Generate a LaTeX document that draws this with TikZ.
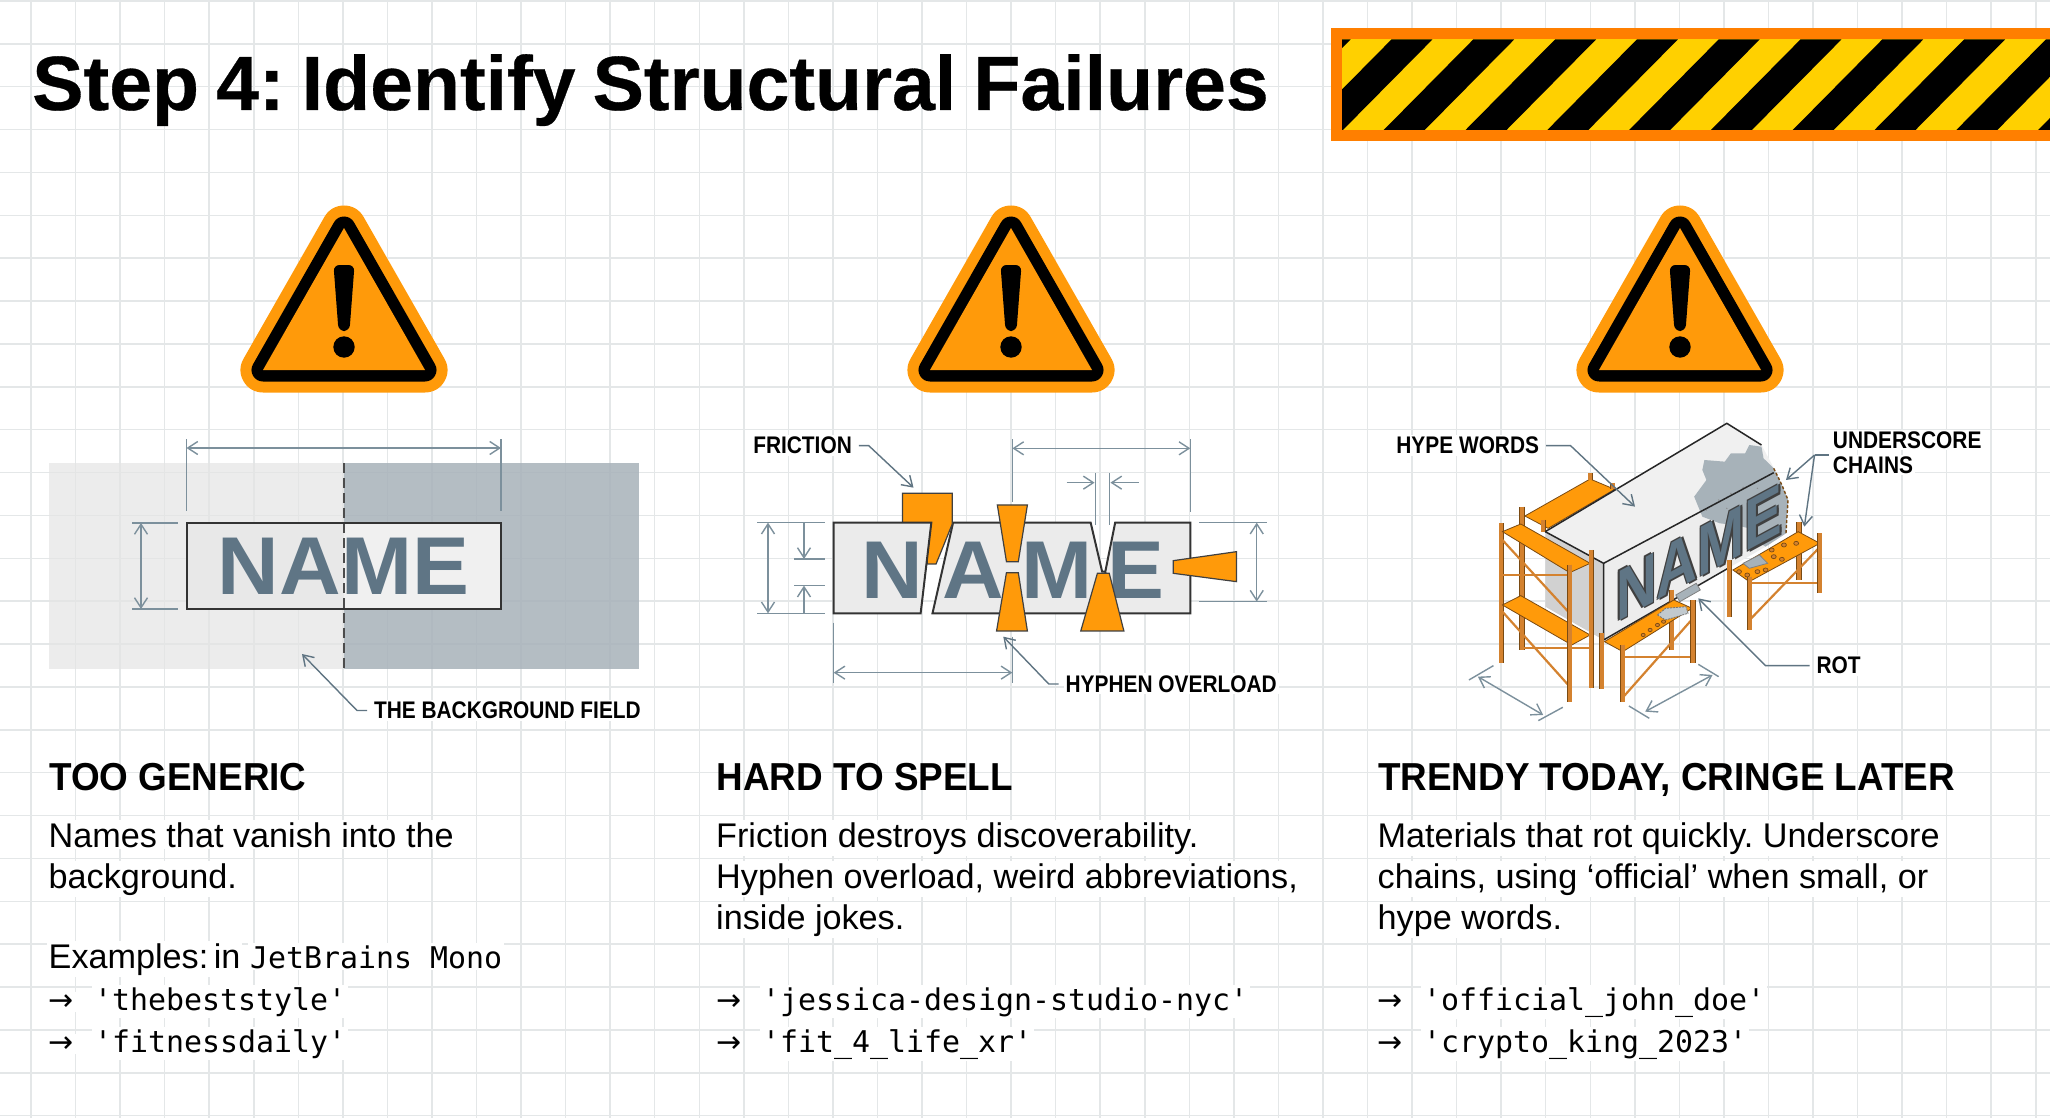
\documentclass[tikz,border=0pt]{standalone}
\usepackage{fontspec}
\setmainfont{Liberation Sans}
\newfontfamily\codefont{DejaVu Sans Mono}
\newfontfamily\arrowfont{DejaVu Sans}
\newfontfamily\calloutfont[FakeStretch=0.87]{Liberation Sans}
\newfontfamily\headfont[FakeStretch=0.945]{Liberation Sans}
\newfontfamily\namefamily[FakeStretch=1.04]{Liberation Sans}
\newfontfamily\titlefont[WordSpace=0.8,BoldFeatures={FakeBold=0.4}]{Liberation Sans}
\usetikzlibrary{arrows.meta}
\frenchspacing
\definecolor{gridcol}{HTML}{E4E7E8}
\definecolor{dimcol}{HTML}{7C909C}
\definecolor{leadcol}{HTML}{5F7482}
\definecolor{namecol}{HTML}{5F7585}
\definecolor{warnorange}{HTML}{FF9A0A}
\definecolor{hazorange}{HTML}{FF7F00}
\definecolor{hazyellow}{HTML}{FFD000}
\definecolor{scaffcol}{HTML}{D4822F}
\definecolor{scaffdark}{HTML}{7A4A12}
\definecolor{rubblecol}{HTML}{A7B2B9}
\tikzset{
  dimline/.style={draw=dimcol,line width=1.4pt,{Straight Barb[length=10pt,width=13pt]}-{Straight Barb[length=10pt,width=13pt]}},
  dimstop/.style={draw=dimcol,line width=1.4pt,-{Straight Barb[length=10pt,width=13pt]}},
  dimtick/.style={draw=dimcol,line width=1.4pt},
  leader/.style={draw=leadcol,line width=1.4pt,-{Straight Barb[length=10pt,width=13pt]}},
  callout/.style={font=\calloutfont\fontsize{24}{24}\selectfont\bfseries,fill=white,inner sep=2pt,outer xsep=5pt,anchor=west},
  headline/.style={font=\headfont\fontsize{39}{39}\selectfont\bfseries,anchor=base west,inner sep=0pt},
  bodyline/.style={font=\fontsize{34.2}{34}\selectfont,anchor=base west,inner sep=2pt,fill=white},
  codeline/.style={font=\codefont\fontsize{29.9}{30}\selectfont,anchor=base west,inner sep=2pt,fill=white},
  codearrow/.style={font=\arrowfont\fontsize{30}{30}\selectfont,anchor=base west,inner sep=2pt,fill=white},
  namebox/.style={draw=black!80,line width=2pt,fill=black!8,line join=miter},
  hazpiece/.style={draw=black!75,line width=1.2pt,fill=warnorange},
  scaffpole/.style={draw=scaffdark,line width=0.6pt,double=scaffcol,double distance=4pt},
  scaffbrace/.style={draw=scaffcol,line width=2.2pt},
  plank/.style={draw=scaffdark,line width=0.8pt,fill=warnorange},
  namefont/.style={font=\namefamily\fontsize{82}{82}\selectfont\bfseries,text=namecol,inner sep=0pt},
  wallfont/.style={font=\fontsize{65}{65}\selectfont\bfseries,transform shape,anchor=base west,inner sep=0pt}
}
\begin{document}
\begin{tikzpicture}[x=1pt,y=-1pt]
\useasboundingbox (0,0) rectangle (2050,1118);
\fill[white] (0,0) rectangle (2050,1118);
% grid
\foreach \i in {0,...,45}
  \draw[gridcol,line width=1.5pt] ({31+44.55*\i},0) -- ({31+44.55*\i},1118);
\foreach \i in {0,...,26}
  \draw[gridcol,line width=1.5pt] (0,{1+42.87*\i}) -- (2050,{1+42.87*\i});
% title and hazard bar
\node[font=\titlefont\fontsize{77}{77}\selectfont\bfseries,anchor=base west,inner sep=0pt] (steptitle) at (32,110) {Step 4: Identify Structural Failures};
\fill[hazorange] (1331,28) rectangle (2050,141);
\begin{scope}
  \clip (1342,39.5) rectangle (2050,130);
  \fill[hazyellow] (1342,39.5) rectangle (2050,130);
  \foreach \i in {-2,...,8}
    \fill[black] ({1383.7+81.8*\i},130) -- ({1424.7+81.8*\i},130) -- ({1514.2+81.8*\i},39.5) -- ({1473.2+81.8*\i},39.5) -- cycle;
\end{scope}
% warning signs
\foreach \cx in {344,1011,1680}{
  \begin{scope}[shift={(\cx,0)}]
    \draw[warnorange,line width=45pt,line join=round] (0,228) -- (-81,370) -- (81,370) -- cycle;
    \draw[black,line width=23pt,line join=round] (0,228) -- (-81,370) -- (81,370) -- cycle;
    \fill[warnorange] (0,228) -- (-81,370) -- (81,370) -- cycle;
    \fill[black,rounded corners=6pt] (-10.5,265) -- (10.5,265) -- (5.5,331) -- (-5.5,331) -- cycle;
    \fill[black] (0,347) circle[radius=10.7];
  \end{scope}
}
% panel 1
\fill[black!10,opacity=0.7] (48.5,463) rectangle (344,669);
\fill[rubblecol,opacity=0.85] (344,463) rectangle (639,669);
\fill[black!9] (186.5,522.7) rectangle (344,609.3);
\fill[black!6] (344,522.7) rectangle (501,609.3);
\node[namefont] (plainname) at (343.5,566.5) {NAME};
\draw[black!70,line width=2pt,dashed,dash pattern=on 10pt off 5pt] (344,463) -- (344,669);
\draw[draw=black!80,line width=2pt] (186.5,522.7) rectangle (501,609.3);
\draw[dimtick] (186.5,439) -- (186.5,511);
\draw[dimtick] (501,439) -- (501,511);
\draw[dimline] (186.5,448) -- (501,448);
\draw[dimtick] (132,523) -- (178,523);
\draw[dimtick] (132,609) -- (178,609);
\draw[dimline] (141,523) -- (141,609);
\node[callout] (fieldlabel) at (367,710.5) {THE BACKGROUND FIELD};
\coordinate (fieldtip) at (302,654);
\draw[leader] (fieldlabel.west) -- ++(-10,0) -- (fieldtip);
% panel 2, read off a 2.529 x 3 crop
\begin{scope}[shift={(700,400)},x=0.3954pt,y=-0.3333pt]
  \draw[namebox] (588,640) -- (640,368) -- (988,368) -- (1017,515) -- (1035,515) -- (990,640) -- cycle;
  \draw[namebox] (1050,368) -- (1240,368) -- (1240,640) -- (1045,640) -- (1025,515) -- cycle;
  \draw[hazpiece] (512,280) -- (638,280) -- (638,372) -- (597,492) -- (575,492) -- (575,368) -- (512,368) -- cycle;
  \draw[namebox] (338,368) -- (585,368) -- (558,640) -- (338,640) -- cycle;
  \node[namefont,anchor=base] (nletter) at (487,596) {N};
  \node[namefont,anchor=base] (aletter) at (690,596) {A};
  \node[namefont,anchor=base] (mletter) at (902,596) {M};
  \node[namefont,anchor=base] (eletter) at (1103,596) {E};
  \draw[hazpiece] (752,315) -- (828,315) -- (805,485) -- (775,485) -- cycle;
  \draw[hazpiece] (775,518) -- (805,518) -- (828,693) -- (750,693) -- cycle;
  \draw[hazpiece] (1005,520) -- (1035,520) -- (1072,693) -- (963,693) -- cycle;
  \draw[hazpiece] (1197,482) -- (1357,455) -- (1357,545) -- (1197,520) -- cycle;
  % dimensions
  \draw[dimtick] (790,118) -- (790,305);
  \draw[dimtick] (1240,118) -- (1240,335);
  \draw[dimline] (790,145) -- (1240,145);
  \draw[dimtick] (1000,220) -- (1000,375);
  \draw[dimtick] (1035,220) -- (1035,375);
  \draw[dimstop] (927,248) -- (998,248);
  \draw[dimstop] (1110,248) -- (1038,248);
  \draw[dimtick] (145,368) -- (315,368);
  \draw[dimtick] (145,640) -- (315,640);
  \draw[dimline] (172,368) -- (172,640);
  \draw[dimtick] (238,477) -- (315,477);
  \draw[dimtick] (238,557) -- (315,557);
  \draw[dimstop] (263,368) -- (263,477);
  \draw[dimstop] (263,640) -- (263,557);
  \draw[dimtick] (1263,368) -- (1435,368);
  \draw[dimtick] (1263,605) -- (1435,605);
  \draw[dimline] (1408,368) -- (1408,605);
  \draw[dimtick] (338,668) -- (338,848);
  \draw[dimtick] (790,710) -- (790,848);
  \draw[dimline] (338,818) -- (790,818);
  % callouts
  \node[callout] (frictionlabel) at (117,137) {FRICTION};
  \coordinate (frictiontip) at (540,263);
  \draw[leader] (frictionlabel.east) -- ++(25,0) -- (frictiontip);
  \node[callout] (hyphenlabel) at (907,852) {HYPHEN OVERLOAD};
  \coordinate (hyphentip) at (767,710);
  \draw[leader] (hyphenlabel.west) -- ++(-25,0) -- (hyphentip);
\end{scope}
% panel 3, read off a 2.45 x 3 crop
\begin{scope}[shift={(1380,400)},x=0.408pt,y=-0.3333pt]
  \fill[black!18] (405,395) -- (548,490) -- (548,720) -- (405,620) -- cycle;
  \draw[plank] (355,348) -- (515,237) -- (575,268) -- (412,385) -- cycle;
  \draw[scaffpole] (515,220) -- (515,240);
  \draw[scaffpole] (570,250) -- (570,268);
  \draw[scaffpole] (348,320) -- (348,750);
  \draw[scaffpole] (400,360) -- (400,395);
  \fill[black!6] (405,395) -- (850,70) -- (935,135) -- (970,215) -- (548,490) -- cycle;
  \fill[black!7] (548,490) -- (970,215) -- (1000,300) -- (995,400) -- (945,440) -- (548,720) -- cycle;
  \fill[rubblecol] (795,180) -- (845,185) -- (860,160) -- (895,160) -- (905,135) -- (935,140) -- (940,175) -- (965,205) -- (985,255) -- (1000,300) -- (995,400) -- (945,440) -- (925,425) -- (905,385) -- (870,375) -- (833,370) -- (790,350) -- (770,290) -- (800,240) -- (790,210) -- cycle;
  \foreach \dx/\dy in {830/300,860/280,890/262,930/240,950/290,965/340,975/380,850/325,905/320,925/265,955/410,800/330}
    \fill[black!45] (\dx,\dy) circle[radius=2];
  \draw[scaffdark,line width=1.4pt,dash pattern=on 3pt off 2pt] (965,205) -- (985,255) -- (1000,300) -- (995,400);
  \draw[black!85,line width=1.5pt] (405,395) -- (850,70) -- (935,135);
  \draw[black!85,line width=1.5pt] (548,490) -- (965,218);
  \draw[black!85,line width=1.5pt] (405,395) -- (548,490) -- (548,720);
  \draw[black!85,line width=1.5pt] (548,720) -- (860,500);
  % wall lettering, dark copies for the edge
  \foreach \sx/\sy/\sn in {-4/4/a,4/4/b,-4/-4/c,4/-4/d}{
    \begin{scope}[shift={(578+\sx,668+\sy)},cm={0.87,0.47,0,1.1,(0,0)}]
      \node[wallfont,text=black!75] (wallshade\sn) at (0,0) {NAME};
    \end{scope}
  }
  \begin{scope}[shift={(578,668)},cm={0.87,0.47,0,1.1,(0,0)}]
    \node[wallfont,text=namecol] (wallname) at (0,0) {NAME};
  \end{scope}
  % left scaffold
  \draw[scaffpole] (297,370) -- (297,790);
  \draw[scaffbrace] (300,525) -- (465,525);
  \draw[scaffbrace] (300,420) -- (465,640);
  \draw[scaffbrace] (300,635) -- (465,860);
  \draw[scaffbrace] (345,745) -- (515,745);
  \draw[plank] (300,395) -- (345,372) -- (515,490) -- (465,518) -- cycle;
  \draw[plank] (300,615) -- (345,587) -- (515,705) -- (470,735) -- cycle;
  \draw[scaffpole] (465,495) -- (465,905);
  \draw[scaffpole] (518,450) -- (518,865);
  % front scaffold
  \draw[scaffpole] (715,570) -- (715,750);
  \draw[scaffbrace] (595,770) -- (765,770);
  \draw[scaffbrace] (597,890) -- (767,655);
  \draw[plank] (550,725) -- (720,600) -- (765,625) -- (595,755) -- cycle;
  \draw[scaffpole] (543,700) -- (543,868);
  \draw[scaffpole] (595,735) -- (595,905);
  \draw[scaffpole] (767,600) -- (767,790);
  \fill[rubblecol,draw=black!50,line width=0.8pt] (725,585) -- (775,550) -- (785,570) -- (735,605) -- cycle;
  \fill[rubblecol!70,draw=black!55,line width=0.8pt,dash pattern=on 2pt off 1pt] (680,645) -- (700,625) -- (750,620) -- (755,640) -- (700,660) -- cycle;
  \foreach \dx/\dy in {645/705,662/690,680/675,695/665}
    \draw[scaffdark,fill=scaffcol,line width=0.7pt] (\dx,\dy) circle[radius=5];
  % back scaffold
  \draw[scaffpole] (1027,365) -- (1027,540);
  \draw[scaffbrace] (906,548) -- (1078,548);
  \draw[scaffbrace] (906,660) -- (1075,445);
  \draw[plank] (865,510) -- (1025,395) -- (1078,430) -- (905,545) -- cycle;
  \fill[rubblecol,draw=black!50,line width=0.8pt] (890,490) -- (930,465) -- (950,490) -- (905,505) -- cycle;
  \foreach \dx/\dy in {880/515,900/525,925/515,945/510,960/450,990/435,1020/430,985/478,965/470}
    \draw[scaffdark,fill=scaffcol,line width=0.7pt] (\dx,\dy) circle[radius=6];
  \draw[scaffpole] (856,480) -- (856,650);
  \draw[scaffpole] (906,530) -- (906,690);
  \draw[scaffpole] (1078,400) -- (1078,580);
  % dimensions
  \draw[dimtick] (218,840) -- (278,797);
  \draw[dimtick] (388,962) -- (448,922);
  \draw[dimline] (240,830) -- (400,945);
  \draw[dimtick] (610,918) -- (660,955);
  \draw[dimtick] (780,793) -- (830,830);
  \draw[dimline] (650,935) -- (815,825);
  % callouts
  \node[callout] (hypelabel) at (23,137) {HYPE WORDS};
  \coordinate (hypetip) at (625,320);
  \draw[leader] (hypelabel.east) -- ++(60,0) -- (hypetip);
  \node[callout] (chainlabel) at (1093,120) {UNDERSCORE};
  \node[callout] (chainlabelb) at (1093,195) {CHAINS};
  \coordinate (chainknot) at (1065,165);
  \coordinate (chaintipa) at (995,240);
  \coordinate (chaintipb) at (1040,380);
  \draw[dimtick,draw=leadcol] (1100,165) -- (chainknot);
  \draw[leader] (chainknot) -- (chaintipa);
  \draw[leader] (chainknot) -- (chaintipb);
  \node[callout] (rotlabel) at (1053,797) {ROT};
  \coordinate (rottip) at (780,595);
  \draw[leader] (rotlabel.west) -- (945,797) -- (rottip);
\end{scope}
% panel texts
\node[headline] (generichead) at (49,790) {TOO GENERIC};
\node[bodyline] (genericone) at (46.5,847) {Names that vanish into the};
\node[bodyline] (generictwo) at (46.5,888) {background.};
\node[bodyline] (exampleword) at (46.5,968) {Examples:\hspace{-4pt} in};
\node[codeline] (examplefont) at (248,968) {JetBrains Mono};
\node[codearrow] (genericarra) at (46.5,1010) {→};
\node[codeline] (genericcoda) at (92,1010) {'thebeststyle'};
\node[codearrow] (genericarrb) at (46.5,1052) {→};
\node[codeline] (genericcodb) at (92,1052) {'fitnessdaily'};
\node[headline] (spellhead) at (716.5,790) {HARD TO SPELL};
\node[bodyline] (spellone) at (714,847) {Friction destroys discoverability.};
\node[bodyline] (spelltwo) at (714,888) {Hyphen overload, weird abbreviations,};
\node[bodyline] (spellthree) at (714,929) {inside jokes.};
\node[codearrow] (spellarra) at (714,1010) {→};
\node[codeline] (spellcoda) at (760,1010) {'jessica-design-studio-nyc'};
\node[codearrow] (spellarrb) at (714,1052) {→};
\node[codeline] (spellcodb) at (760,1052) {'fit\_4\_life\_xr'};
\node[headline] (trendhead) at (1378,790) {TRENDY TODAY, CRINGE LATER};
\node[bodyline] (trendone) at (1375.5,847) {Materials that rot quickly. Underscore};
\node[bodyline] (trendtwo) at (1375.5,888) {chains, using ‘official’ when small, or};
\node[bodyline] (trendthree) at (1375.5,929) {hype words.};
\node[codearrow] (trendarra) at (1375.5,1010) {→};
\node[codeline] (trendcoda) at (1421,1010) {'official\_john\_doe'};
\node[codearrow] (trendarrb) at (1375.5,1052) {→};
\node[codeline] (trendcodb) at (1421,1052) {'crypto\_king\_2023'};
\end{tikzpicture}
\end{document}
